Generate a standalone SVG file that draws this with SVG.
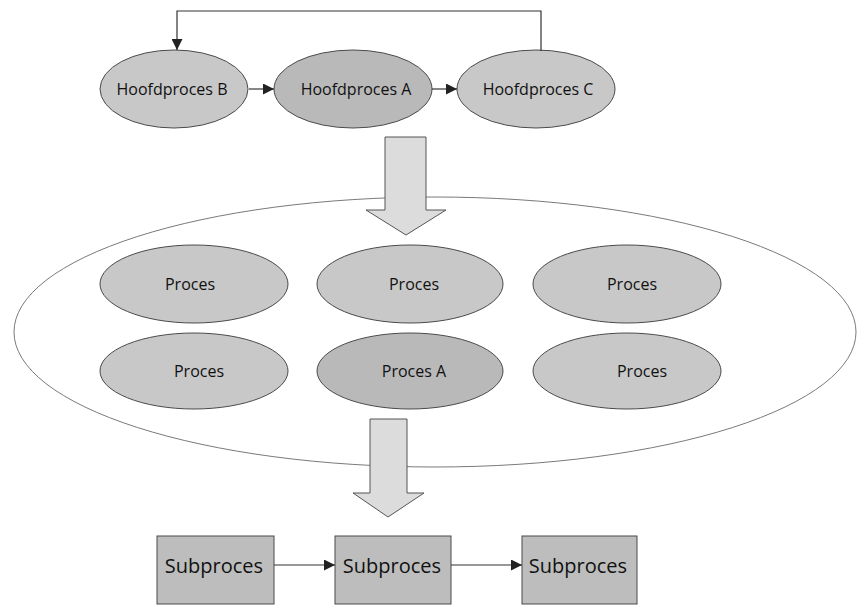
<svg xmlns="http://www.w3.org/2000/svg" width="859" height="606" viewBox="0 0 859 606">
  <style>
    .node { fill: #c8c8c8; stroke: #4a4a4a; stroke-width: 1; }
    .node.dark { fill: #b9b9b9; }
    .box { fill: #bdbdbd; stroke: #4a4a4a; stroke-width: 1; }
    .big { fill: #dcdcdc; stroke: #555; stroke-width: 1; }
    .group { fill: none; stroke: #7a7a7a; stroke-width: 1; }
    .link { fill: none; stroke: #333; stroke-width: 1.2; }
    text { font-family: "Open Sans", "Noto Sans", sans-serif; fill: #111; text-anchor: middle; }
    .lbl { font-size: 16px; }
    .sub { font-size: 20px; }
  </style>
  <defs>
    <marker id="head" viewBox="0 0 10 10" refX="10" refY="5" markerWidth="11" markerHeight="11" markerUnits="userSpaceOnUse" orient="auto">
      <path d="M0,0 L10,5 L0,10 Z" fill="#222"/>
    </marker>
  </defs>

  <!-- enclosing process group -->
  <ellipse class="group" cx="435" cy="332" rx="421" ry="135"/>

  <!-- block arrows -->
  <path id="arrow-down-1" class="big" d="M385,137 H426 V210 H446 L406,235 L366,210 H385 Z"/>
  <path id="arrow-down-2" class="big" d="M370,419 H407 V493 H424 L388,517 L353,493 H370 Z"/>

  <!-- main processes -->
  <g id="hoofdproces-b"><ellipse class="node" cx="174" cy="89" rx="74" ry="39"/><text class="lbl" x="172" y="95">Hoofdproces B</text></g>
  <g id="hoofdproces-a"><ellipse class="node dark" cx="353" cy="89" rx="79" ry="39"/><text class="lbl" x="356" y="95">Hoofdproces A</text></g>
  <g id="hoofdproces-c"><ellipse class="node" cx="536" cy="89" rx="79" ry="39"/><text class="lbl" x="538" y="95">Hoofdproces C</text></g>

  <!-- processes -->
  <g id="proces-1"><ellipse class="node" cx="194" cy="284" rx="94" ry="39"/><text class="lbl" x="190" y="290">Proces</text></g>
  <g id="proces-2"><ellipse class="node" cx="410" cy="284" rx="93" ry="39"/><text class="lbl" x="414" y="290">Proces</text></g>
  <g id="proces-3"><ellipse class="node" cx="627" cy="284" rx="94" ry="39"/><text class="lbl" x="632" y="290">Proces</text></g>
  <g id="proces-4"><ellipse class="node" cx="194" cy="371" rx="94" ry="38"/><text class="lbl" x="199" y="377">Proces</text></g>
  <g id="proces-a"><ellipse class="node dark" cx="410" cy="371" rx="93" ry="38"/><text class="lbl" x="414" y="377">Proces A</text></g>
  <g id="proces-6"><ellipse class="node" cx="627" cy="371" rx="94" ry="38"/><text class="lbl" x="642" y="377">Proces</text></g>

  <!-- subprocesses -->
  <g id="subproces-1"><rect class="box" x="157" y="536" width="117" height="68"/><text class="sub" x="214" y="573">Subproces</text></g>
  <g id="subproces-2"><rect class="box" x="335" y="536" width="116" height="68"/><text class="sub" x="392" y="573">Subproces</text></g>
  <g id="subproces-3"><rect class="box" x="522" y="536" width="115" height="68"/><text class="sub" x="578" y="573">Subproces</text></g>

  <!-- connectors -->
  <g id="connectors">
    <path class="link" d="M541,51 V11 H177 V50" marker-end="url(#head)"/>
    <path class="link" d="M249,89 H274" marker-end="url(#head)"/>
    <path class="link" d="M432,89 H457" marker-end="url(#head)"/>
    <path class="link" d="M274,565 H335" marker-end="url(#head)"/>
    <path class="link" d="M451,565 H522" marker-end="url(#head)"/>
  </g>
</svg>
